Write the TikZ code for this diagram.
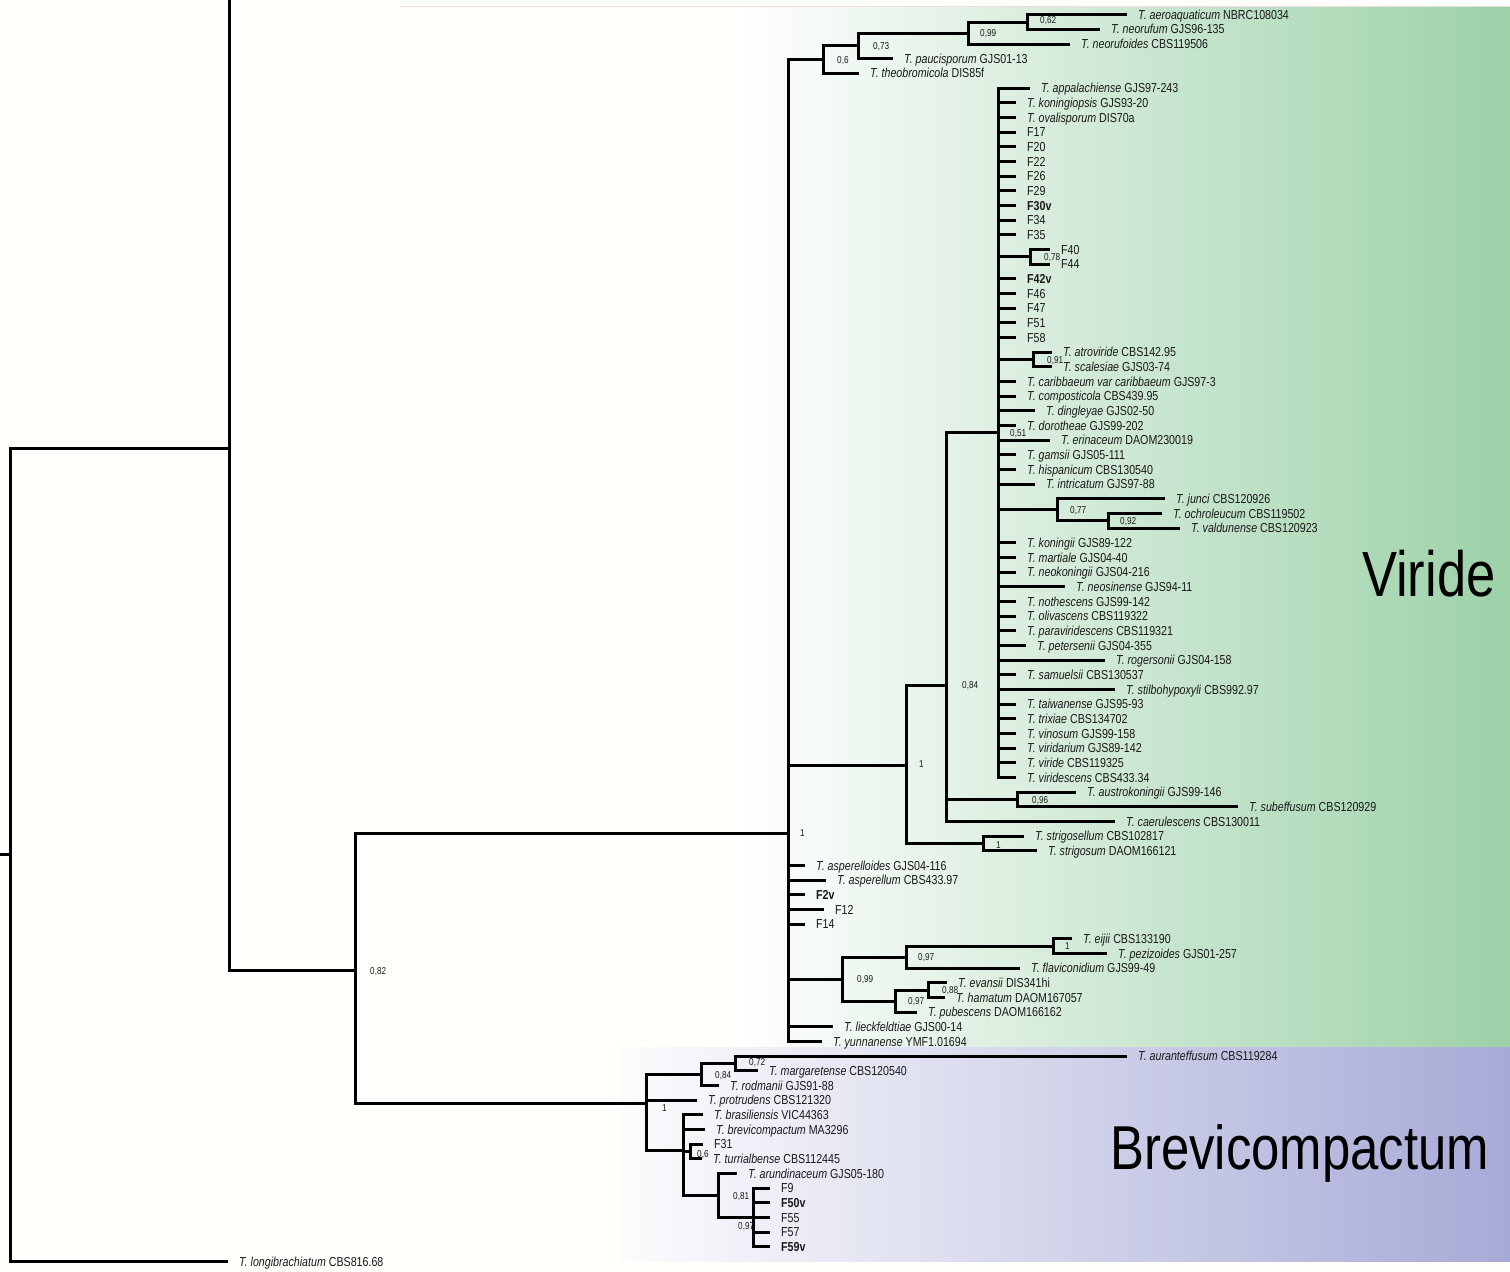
\documentclass[tikz,border=0pt]{standalone}
\usepackage{fontspec}
\newfontfamily\labf[FakeStretch=0.82]{Liberation Sans}
\definecolor{vgreen}{RGB}{156,209,168}
\definecolor{bblue}{RGB}{166,170,214}
\definecolor{txt}{RGB}{25,25,25}
\definecolor{pinkl}{RGB}{242,218,222}
\newcommand{\tipn}[4]{\coordinate (#1) at (#2,#3); \node[lab] (#1-l) at ([xshift=11pt]#1) {#4};}
\newcommand{\spc}[2]{\textit{T. #1} #2}
\newcommand{\bsup}[4]{\node[slab] (s-#1) at ([xshift=#3pt,yshift=#4pt]#1) {#2};}
\newcommand{\kids}[2]{\foreach \kd in {#2} {\draw[br] (#1) |- (\kd);}}
\begin{document}
\begin{tikzpicture}[x=1pt,y=-14.67pt,
  br/.style={line width=3pt,black},
  lab/.style={anchor=west,inner sep=0pt,text=txt,font=\labf\fontsize{13}{13}\selectfont,text height=9.3pt,text depth=0pt},
  slab/.style={anchor=west,inner sep=0pt,text=txt,font=\labf\fontsize{10}{10}\selectfont,text height=7.2pt,text depth=0pt},
  big/.style={anchor=west,inner sep=0pt,text=black}]
\useasboundingbox (0,-6) rectangle (1510,80.64);
\fill[white!99!yellow] (0,-6) rectangle (1510,80.64);
% backgrounds
\shade[left color=white,right color=vgreen] (740,-5.52) rectangle (1510,65.37);
\shade[left color=white!97!bblue,right color=bblue] (620,65.37) rectangle (1510,79.96);
\draw[pinkl,line width=1.2pt] (400,-5.56) -- (1510,-5.56);
% clade titles
\node[big,font=\labf\fontsize{64}{64}\selectfont] (viride) at (1362,33.1) {Viride};
\node[big,font=\labf\fontsize{62}{62}\selectfont] (brevi) at (1110,72.6) {Brevicompactum};

% ---------- top clade ----------
\coordinate (n062) at (1027,-4.5);
\coordinate (n099t) at (968,-3.75);
\coordinate (n073) at (858,-2.875);
\coordinate (n06) at (823,-1.93);
\tipn{aero}{1127}{-5}{\spc{aeroaquaticum}{NBRC108034}}
\tipn{neoruf}{1100}{-4}{\spc{neorufum}{GJS96-135}}
\tipn{neorufo}{1070}{-3}{\spc{neorufoides}{CBS119506}}
\tipn{pauci}{893}{-2}{\spc{paucisporum}{GJS01-13}}
\tipn{theo}{859}{-1}{\spc{theobromicola}{DIS85f}}
\kids{n062}{aero,neoruf}
\kids{n099t}{n062,neorufo}
\kids{n073}{n099t,pauci}
\kids{n06}{n073,theo}

% ---------- big polytomy ----------
\coordinate (P) at (998,23.5);
\tipn{app}{1030}{0}{\spc{appalachiense}{GJS97-243}}
\tipn{kgps}{1016}{1}{\spc{koningiopsis}{GJS93-20}}
\tipn{oval}{1016}{2}{\spc{ovalisporum}{DIS70a}}
\tipn{f17}{1016}{3}{F17}
\tipn{f20}{1016}{4}{F20}
\tipn{f22}{1016}{5}{F22}
\tipn{f26}{1016}{6}{F26}
\tipn{f29}{1016}{7}{F29}
\tipn{f30}{1016}{8}{\textbf{F30v}}
\tipn{f34}{1016}{9}{F34}
\tipn{f35}{1016}{10}{F35}
\coordinate (n078) at (1030,11.5);
\tipn{f40}{1050}{11}{F40}
\tipn{f44}{1050}{12}{F44}
\tipn{f42}{1016}{13}{\textbf{F42v}}
\tipn{f46}{1016}{14}{F46}
\tipn{f47}{1016}{15}{F47}
\tipn{f51}{1016}{16}{F51}
\tipn{f58}{1016}{17}{F58}
\coordinate (n091) at (1033,18.5);
\tipn{atro}{1052}{18}{\spc{atroviride}{CBS142.95}}
\tipn{scal}{1052}{19}{\spc{scalesiae}{GJS03-74}}
\tipn{carib}{1016}{20}{\spc{caribbaeum var caribbaeum}{GJS97-3}}
\tipn{compo}{1016}{21}{\spc{composticola}{CBS439.95}}
\tipn{ding}{1035}{22}{\spc{dingleyae}{GJS02-50}}
\tipn{doro}{1016}{23}{\spc{dorotheae}{GJS99-202}}
\tipn{erin}{1050}{24}{\spc{erinaceum}{DAOM230019}}
\tipn{gams}{1016}{25}{\spc{gamsii}{GJS05-111}}
\tipn{hisp}{1016}{26}{\spc{hispanicum}{CBS130540}}
\tipn{intr}{1035}{27}{\spc{intricatum}{GJS97-88}}
\coordinate (n077) at (1057,28.75);
\coordinate (n092) at (1108,29.5);
\tipn{junci}{1165}{28}{\spc{junci}{CBS120926}}
\tipn{ochro}{1162}{29}{\spc{ochroleucum}{CBS119502}}
\tipn{vald}{1180}{30}{\spc{valdunense}{CBS120923}}
\tipn{koni}{1016}{31}{\spc{koningii}{GJS89-122}}
\tipn{mart}{1016}{32}{\spc{martiale}{GJS04-40}}
\tipn{neok}{1016}{33}{\spc{neokoningii}{GJS04-216}}
\tipn{neos}{1065}{34}{\spc{neosinense}{GJS94-11}}
\tipn{noth}{1016}{35}{\spc{nothescens}{GJS99-142}}
\tipn{oliv}{1016}{36}{\spc{olivascens}{CBS119322}}
\tipn{parv}{1016}{37}{\spc{paraviridescens}{CBS119321}}
\tipn{pete}{1026}{38}{\spc{petersenii}{GJS04-355}}
\tipn{roge}{1105}{39}{\spc{rogersonii}{GJS04-158}}
\tipn{samu}{1016}{40}{\spc{samuelsii}{CBS130537}}
\tipn{stil}{1115}{41}{\spc{stilbohypoxyli}{CBS992.97}}
\tipn{taiw}{1016}{42}{\spc{taiwanense}{GJS95-93}}
\tipn{trix}{1016}{43}{\spc{trixiae}{CBS134702}}
\tipn{vino}{1016}{44}{\spc{vinosum}{GJS99-158}}
\tipn{vrdm}{1016}{45}{\spc{viridarium}{GJS89-142}}
\tipn{vrde}{1016}{46}{\spc{viride}{CBS119325}}
\tipn{vrds}{1016}{47}{\spc{viridescens}{CBS433.34}}
\kids{n078}{f40,f44}
\kids{n091}{atro,scal}
\kids{n092}{ochro,vald}
\kids{n077}{junci,n092}
\kids{P}{app,kgps,oval,f17,f20,f22,f26,f29,f30,f34,f35,n078,f42,f46,f47,f51,f58,n091,carib,compo,ding,doro,erin,gams,hisp,intr,n077,koni,mart,neok,neos,noth,oliv,parv,pete,roge,samu,stil,taiw,trix,vino,vrdm,vrde,vrds}

% ---------- rest of Viride ----------
\coordinate (n096) at (1017,48.5);
\tipn{aust}{1076}{48}{\spc{austrokoningii}{GJS99-146}}
\tipn{sube}{1238}{49}{\spc{subeffusum}{CBS120929}}
\tipn{caer}{1115}{50}{\spc{caerulescens}{CBS130011}}
\coordinate (n084) at (946,40.7);
\coordinate (n1b) at (983,51.5);
\tipn{stgl}{1024}{51}{\spc{strigosellum}{CBS102817}}
\tipn{stgm}{1037}{52}{\spc{strigosum}{DAOM166121}}
\coordinate (n1a) at (906,46.2);
\kids{n096}{aust,sube}
\kids{n084}{P,n096,caer}
\kids{n1b}{stgl,stgm}
\kids{n1a}{n084,n1b}

\tipn{aspd}{805}{53}{\spc{asperelloides}{GJS04-116}}
\tipn{aspm}{826}{54}{\spc{asperellum}{CBS433.97}}
\tipn{f2v}{805}{55}{\textbf{F2v}}
\tipn{f12}{824}{56}{F12}
\tipn{f14}{805}{57}{F14}
\coordinate (n099) at (842,60.75);
\coordinate (n097a) at (906,59.25);
\coordinate (n1e) at (1053,58.5);
\tipn{eiji}{1072}{58}{\spc{eijii}{CBS133190}}
\tipn{pezi}{1107}{59}{\spc{pezizoides}{GJS01-257}}
\tipn{flav}{1020}{60}{\spc{flaviconidium}{GJS99-49}}
\coordinate (n097b) at (895,62.25);
\coordinate (n088) at (928,61.5);
\tipn{evan}{947}{61}{\spc{evansii}{DIS341hi}}
\tipn{hama}{945}{62}{\spc{hamatum}{DAOM167057}}
\tipn{pube}{917}{63}{\spc{pubescens}{DAOM166162}}
\tipn{liec}{833}{64}{\spc{lieckfeldtiae}{GJS00-14}}
\tipn{yunn}{822}{65}{\spc{yunnanense}{YMF1.01694}}
\kids{n1e}{eiji,pezi}
\kids{n097a}{n1e,flav}
\kids{n088}{evan,hama}
\kids{n097b}{n088,pube}
\kids{n099}{n097a,n097b}
\coordinate (V) at (788,50.8);
\kids{V}{n06,n1a,aspd,aspm,f2v,f12,f14,n099,liec,yunn}

% ---------- Brevicompactum ----------
\coordinate (n072) at (735,66.5);
\tipn{aura}{1127}{66}{\spc{auranteffusum}{CBS119284}}
\tipn{marg}{758}{67}{\spc{margaretense}{CBS120540}}
\coordinate (n084b) at (701,67.25);
\tipn{rodm}{719}{68}{\spc{rodmanii}{GJS91-88}}
\tipn{prot}{697}{69}{\spc{protrudens}{CBS121320}}
\coordinate (n683) at (683,72.4);
\tipn{bras}{703}{70}{\spc{brasiliensis}{VIC44363}}
\tipn{brev}{705}{71}{\spc{brevicompactum}{MA3296}}
\coordinate (n06b) at (690,72.5);
\tipn{f31}{703}{72}{F31}
\tipn{turr}{702}{73}{\spc{turrialbense}{CBS112445}}
\coordinate (n081) at (718,75.5);
\tipn{arun}{737}{74}{\spc{arundinaceum}{GJS05-180}}
\coordinate (n097c) at (753,77);
\tipn{f9}{770}{75}{F9}
\tipn{f50}{770}{76}{\textbf{F50v}}
\tipn{f55}{770}{77}{F55}
\tipn{f57}{770}{78}{F57}
\tipn{f59}{770}{79}{\textbf{F59v}}
\coordinate (Brev) at (646,69.25);
\kids{n072}{aura,marg}
\kids{n084b}{n072,rodm}
\kids{n06b}{f31,turr}
\kids{n097c}{f9,f50,f55,f57,f59}
\kids{n081}{arun,n097c}
\kids{n683}{bras,brev,n06b,n081}
\kids{Brev}{n084b,prot,n683}

% ---------- backbone ----------
\coordinate (B) at (355,60.15);
\kids{B}{V,Brev}
\coordinate (A) at (229,24.54);
\coordinate (Atop) at (229,-6.2);
\draw[br] (A) -- (Atop);
\kids{A}{B}
\tipn{longi}{228}{80}{\spc{longibrachiatum}{CBS816.68}}
\coordinate (root) at (10,52.27);
\coordinate (rstub) at (0,52.27);
\kids{root}{A,longi}
\draw[br] (rstub) -- (root);

% ---------- support values ----------
\bsup{n062}{0,62}{13}{2}
\bsup{n099t}{0,99}{12}{0}
\bsup{n073}{0,73}{15}{0}
\bsup{n06}{0,6}{14}{0}
\bsup{n078}{0,78}{14}{0}
\bsup{n091}{0,91}{14}{0}
\bsup{P}{0,51}{12}{0}
\bsup{n077}{0,77}{13}{0}
\bsup{n092}{0,92}{12}{0}
\bsup{n084}{0,84}{16}{0}
\bsup{n1a}{1}{13}{2}
\bsup{n096}{0,96}{15}{0}
\bsup{n1b}{1}{13}{-1}
\bsup{V}{1}{12}{0}
\bsup{B}{0,82}{15}{0}
\bsup{n099}{0,99}{15}{0}
\bsup{n097a}{0,97}{12}{0}
\bsup{n1e}{1}{12}{0}
\bsup{n097b}{0,97}{13}{0}
\bsup{n088}{0,88}{14}{0}
\bsup{n072}{0,72}{14}{2}
\bsup{n084b}{0,84}{14}{0}
\bsup{Brev}{1}{16}{-4}
\bsup{n06b}{0,6}{7}{-2}
\bsup{n081}{0,81}{15}{0}
\bsup{n097c}{0,97}{-15}{-8}
\end{tikzpicture}
\end{document}
